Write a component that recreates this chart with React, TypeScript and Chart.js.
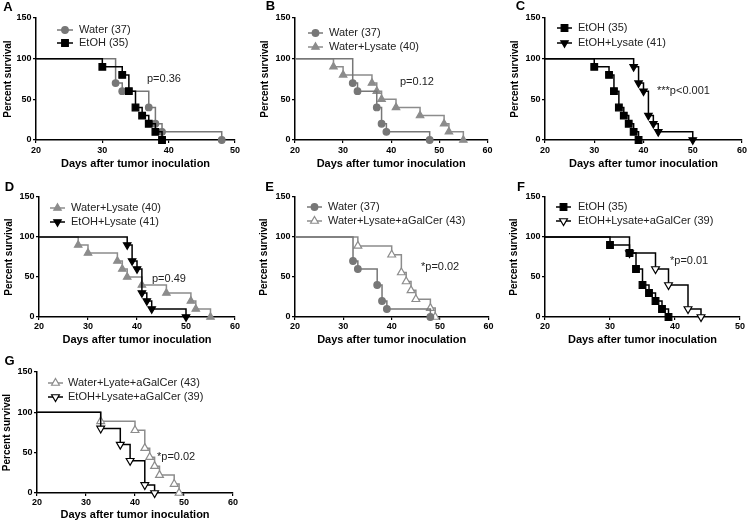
import React, { useEffect, useRef } from 'react';
import { Chart, registerables } from 'chart.js';

Chart.register(...registerables);

const FONT = 'Arial, "Liberation Sans", Helvetica, sans-serif';

// ---------------- data ----------------
const yTicks = [0, 50, 100, 150];
const xTicks50 = [20, 30, 40, 50];
const xTicks60 = [20, 30, 40, 50, 60];

const waterDays = [20, 32, 33, 37, 38, 39, 48];
const waterSurv = [100, 70, 60, 40, 20, 10, 0];

const etohDays = [20, 30, 33, 34, 35, 36, 37, 38, 39];
const etohSurv = [100, 90, 80, 60, 40, 30, 20, 10, 0];

const waterLysateDays = [20, 28, 30, 36, 37, 38, 41, 46, 51, 52, 55];
const waterLysateSurv = [100, 90, 80, 70, 60, 50, 40, 30, 20, 10, 0];

const etohLysateDays = [20, 38, 39, 40, 41, 42, 43, 50];
const etohLysateSurv = [100, 90, 70, 60, 30, 20, 10, 0];

const waterLysateGalDays = [20, 33, 40, 42, 43, 44, 45, 48, 49];
const waterLysateGalSurv = [100, 88.9, 77.8, 55.6, 44.4, 33.3, 22.2, 11.1, 0];

const etohLysateGalDays = [20, 33, 37, 39, 42, 44];
const etohLysateGalSurv = [100, 80, 60, 40, 10, 0];

const panelLetters = ['A', 'B', 'C', 'D', 'E', 'F', 'G'];
const pValues = ['p=0.36', 'p=0.12', '***p<0.001', 'p=0.49', '*p=0.02', '*p=0.01', '*p=0.02'];
const yTitle = 'Percent survival';
const xTitle = 'Days after tumor inoculation';

// ---------------- styles ----------------
type Shape = 'circle' | 'rect' | 'triangle';
interface Series {
  label: string; days: number[]; surv: number[]; color: string;
  shape: Shape; rot: number; open: boolean; radius: number; order: number;
}
const GRAY_DARK = '#777777';
const GRAY = '#8c8c8c';
const BLACK = '#000000';

const water = (): Series => ({ label: 'Water (37)', days: waterDays, surv: waterSurv, color: GRAY_DARK, shape: 'circle', rot: 0, open: false, radius: 3.3, order: 1 });
const etoh = (): Series => ({ label: 'EtOH (35)', days: etohDays, surv: etohSurv, color: BLACK, shape: 'rect', rot: 0, open: false, radius: 4.7, order: 0 });
const waterLysate = (): Series => ({ label: 'Water+Lysate (40)', days: waterLysateDays, surv: waterLysateSurv, color: GRAY, shape: 'triangle', rot: 0, open: false, radius: 4.3, order: 1 });
const etohLysate = (): Series => ({ label: 'EtOH+Lysate (41)', days: etohLysateDays, surv: etohLysateSurv, color: BLACK, shape: 'triangle', rot: 180, open: false, radius: 4.3, order: 0 });
const waterLysateGal = (label = 'Water+Lysate+aGalCer (43)'): Series => ({ label, days: waterLysateGalDays, surv: waterLysateGalSurv, color: GRAY, shape: 'triangle', rot: 0, open: true, radius: 4.5, order: 1 });
const etohLysateGal = (): Series => ({ label: 'EtOH+Lysate+aGalCer (39)', days: etohLysateGalDays, surv: etohLysateGalSurv, color: BLACK, shape: 'triangle', rot: 180, open: true, radius: 4.5, order: 0 });

interface Panel {
  canvas: { l: number; t: number; w: number; h: number };
  area: { x0: number; x1: number; y0: number; y1: number };
  xTicks: number[];
  yTitleX: number; xTitleY: number; xTickY: number;
  legend: { x0: number; x1: number; tx: number; y: number[] };
  pX: number; pY: number;
  letterX: number; letterY: number;
  series: Series[];
}

const panels: Panel[] = [
  { canvas: { l: 0, t: 0, w: 245, h: 177 }, area: { x0: 36, x1: 235, y0: 18, y1: 140 }, xTicks: xTicks50,
    yTitleX: 8, xTitleY: 164, xTickY: 151, legend: { x0: 57, x1: 73, tx: 79, y: [30, 43] }, pX: 147, pY: 79,
    letterX: 8, letterY: 7, series: [water(), etoh()] },
  { canvas: { l: 245, t: 0, w: 250, h: 177 }, area: { x0: 295, x1: 493, y0: 18, y1: 140 }, xTicks: xTicks60,
    yTitleX: 265, xTitleY: 164, xTickY: 151, legend: { x0: 308, x1: 323, tx: 329, y: [33, 47] }, pX: 400, pY: 82,
    letterX: 270.5, letterY: 6, series: [water(), waterLysate()] },
  { canvas: { l: 495, t: 0, w: 255, h: 177 }, area: { x0: 545, x1: 742, y0: 18, y1: 140 }, xTicks: xTicks60,
    yTitleX: 515, xTitleY: 164, xTickY: 151, legend: { x0: 557, x1: 572, tx: 578, y: [28, 43] }, pX: 657, pY: 91,
    letterX: 520.5, letterY: 6, series: [etoh(), etohLysate()] },
  { canvas: { l: 0, t: 177, w: 245, h: 177 }, area: { x0: 39, x1: 235, y0: 197, y1: 317 }, xTicks: xTicks60,
    yTitleX: 9, xTitleY: 340, xTickY: 327, legend: { x0: 50, x1: 65, tx: 71, y: [208, 222] }, pX: 152, pY: 279,
    letterX: 9.5, letterY: 187.5, series: [waterLysate(), etohLysate()] },
  { canvas: { l: 245, t: 177, w: 250, h: 177 }, area: { x0: 295, x1: 493, y0: 197, y1: 317 }, xTicks: xTicks60,
    yTitleX: 264, xTitleY: 340, xTickY: 327, legend: { x0: 307, x1: 322, tx: 328, y: [207, 221] }, pX: 421, pY: 267,
    letterX: 269.5, letterY: 187.5, series: [water(), waterLysateGal()] },
  { canvas: { l: 495, t: 177, w: 255, h: 177 }, area: { x0: 545, x1: 740, y0: 197, y1: 317 }, xTicks: xTicks50,
    yTitleX: 514, xTitleY: 340, xTickY: 327, legend: { x0: 556, x1: 571, tx: 578, y: [207, 221] }, pX: 670, pY: 261,
    letterX: 521, letterY: 187.5, series: [etoh(), etohLysateGal()] },
  { canvas: { l: 0, t: 353, w: 245, h: 170 }, area: { x0: 37, x1: 233, y0: 372, y1: 493 }, xTicks: xTicks60,
    yTitleX: 7.5, xTitleY: 515, xTickY: 503, legend: { x0: 48, x1: 63, tx: 68, y: [383, 397] }, pX: 157, pY: 457,
    letterX: 9.5, letterY: 361.5, series: [waterLysateGal('Water+Lyate+aGalCer (43)'), etohLysateGal()] },
];

function drawMarker(ctx: CanvasRenderingContext2D, s: Series, x: number, y: number) {
  ctx.save();
  ctx.beginPath();
  const r = s.radius;
  if (s.shape === 'circle') {
    ctx.arc(x, y, r, 0, Math.PI * 2);
  } else if (s.shape === 'rect') {
    const h = Math.SQRT1_2 * r;
    ctx.rect(x - h, y - h, 2 * h, 2 * h);
  } else {
    let rad = (s.rot * Math.PI) / 180;
    ctx.moveTo(x + Math.sin(rad) * r, y - Math.cos(rad) * r);
    rad += (2 * Math.PI) / 3;
    ctx.lineTo(x + Math.sin(rad) * r, y - Math.cos(rad) * r);
    rad += (2 * Math.PI) / 3;
    ctx.lineTo(x + Math.sin(rad) * r, y - Math.cos(rad) * r);
    ctx.closePath();
  }
  ctx.fillStyle = s.open ? '#ffffff' : s.color;
  ctx.fill();
  ctx.strokeStyle = s.color;
  ctx.lineWidth = 1.2;
  ctx.stroke();
  ctx.restore();
}

function makeOverlay(p: Panel, idx: number) {
  return {
    id: 'overlay' + idx,
    afterDraw(chart: any) {
      const ctx: CanvasRenderingContext2D = chart.ctx;
      const ox = p.canvas.l;
      const oy = p.canvas.t;
      ctx.save();
      ctx.fillStyle = '#000';
      ctx.font = `bold 13px ${FONT}`;
      ctx.textAlign = 'center';
      ctx.textBaseline = 'middle';
      ctx.fillText(panelLetters[idx], p.letterX - ox, p.letterY - oy);

      p.series.forEach((s, i) => {
        const y = p.legend.y[i] - oy;
        ctx.strokeStyle = s.color;
        ctx.lineWidth = 1.5;
        ctx.beginPath();
        ctx.moveTo(p.legend.x0 - ox, y);
        ctx.lineTo(p.legend.x1 - ox, y);
        ctx.stroke();
        drawMarker(ctx, s, (p.legend.x0 + p.legend.x1) / 2 - ox, y);
        ctx.fillStyle = '#222';
        ctx.font = `11px ${FONT}`;
        ctx.textAlign = 'left';
        ctx.textBaseline = 'middle';
        ctx.fillText(s.label, p.legend.tx - ox, y);
      });

      ctx.fillStyle = '#222';
      ctx.font = `11px ${FONT}`;
      ctx.textAlign = 'left';
      ctx.textBaseline = 'middle';
      ctx.fillText(pValues[idx], p.pX - ox, p.pY - oy);
      ctx.restore();
    },
  };
}

function PanelChart({ p, idx }: { p: Panel; idx: number }) {
  const ref = useRef<HTMLCanvasElement>(null);
  useEffect(() => {
    if (!ref.current) return;
    const c = p.canvas;
    const a = p.area;
    const yW = a.x0 - c.l;
    const xH = c.t + c.h - a.y1;
    const yTitleFont = 10;
    const xTitleFont = 11;
    const tickFont = 9;
    const chart = new Chart(ref.current, {
      type: 'line',
      data: {
        datasets: p.series.map((s) => ({
          label: s.label,
          data: s.days.map((d, i) => ({ x: d, y: s.surv[i] })),
          stepped: 'before',
          borderColor: s.color,
          borderWidth: 1.5,
          fill: false,
          pointStyle: s.shape,
          pointRotation: s.rot,
          pointRadius: (ctx: any) => (ctx.dataIndex === 0 ? 0 : s.radius),
          pointBackgroundColor: s.open ? '#ffffff' : s.color,
          pointBorderColor: s.color,
          pointBorderWidth: 1.2,
          clip: false,
          order: s.order,
        })) as any,
      },
      options: {
        responsive: false,
        animation: false,
        events: [],
        layout: { padding: { top: a.y0 - c.t, right: c.l + c.w - a.x1, left: 0, bottom: 0 } },
        plugins: { legend: { display: false }, tooltip: { enabled: false } },
        scales: {
          x: {
            type: 'linear',
            min: p.xTicks[0],
            max: p.xTicks[p.xTicks.length - 1],
            afterBuildTicks: (s: any) => { s.ticks = p.xTicks.map((v) => ({ value: v })); },
            afterFit: (s: any) => { s.height = xH; },
            grid: { display: true, drawOnChartArea: false, drawTicks: true, tickLength: 3, color: '#000', lineWidth: 1.2 },
            border: { display: true, color: '#000', width: 1.5 },
            ticks: {
              color: '#000',
              font: { family: FONT, size: tickFont, weight: 'bold' },
              padding: p.xTickY - a.y1 - 3 - (tickFont * 1.2) / 2,
              maxRotation: 0,
              autoSkip: false,
            },
            title: {
              display: true,
              text: xTitle,
              color: '#000',
              font: { family: FONT, size: xTitleFont, weight: 'bold' },
              padding: { top: 0, bottom: Math.max(0, c.t + c.h - p.xTitleY - (xTitleFont * 1.2) / 2) },
            },
          },
          y: {
            type: 'linear',
            min: 0,
            max: 150,
            afterBuildTicks: (s: any) => { s.ticks = yTicks.map((v) => ({ value: v })); },
            afterFit: (s: any) => { s.width = yW; },
            grid: { display: true, drawOnChartArea: false, drawTicks: true, tickLength: 3, color: '#000', lineWidth: 1.2 },
            border: { display: true, color: '#000', width: 1.5 },
            ticks: {
              color: '#000',
              font: { family: FONT, size: tickFont, weight: 'bold' },
              padding: 1.5,
              autoSkip: false,
            },
            title: {
              display: true,
              text: yTitle,
              color: '#000',
              font: { family: FONT, size: yTitleFont, weight: 'bold' },
              padding: { top: Math.max(0, p.yTitleX - c.l - (yTitleFont * 1.2) / 2), bottom: 0 },
            },
          },
        },
      },
      plugins: [makeOverlay(p, idx)],
    } as any);
    return () => chart.destroy();
  }, [p, idx]);
  return (
    <canvas
      ref={ref}
      width={p.canvas.w}
      height={p.canvas.h}
      style={{ position: 'absolute', left: p.canvas.l, top: p.canvas.t, width: p.canvas.w, height: p.canvas.h }}
    />
  );
}

export default function App() {
  return (
    <div style={{ position: 'fixed', left: 0, top: 0, width: 750, height: 523, background: '#fff', overflow: 'hidden' }}>
      {panels.map((p, i) => (
        <PanelChart key={i} p={p} idx={i} />
      ))}
    </div>
  );
}
